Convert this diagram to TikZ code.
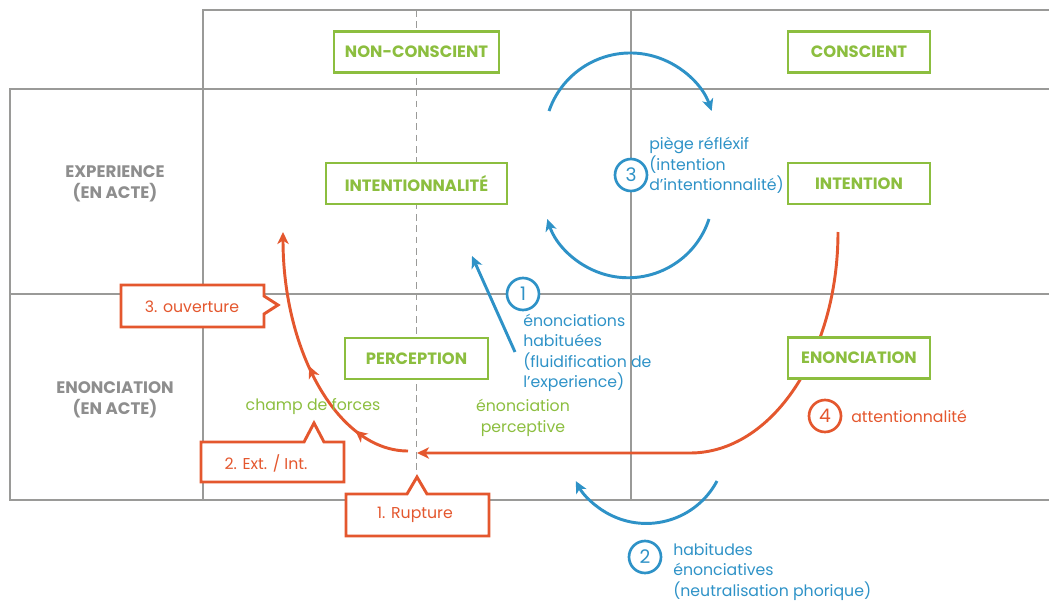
\documentclass[tikz,border=0pt]{standalone}
\usepackage{fontspec}
\setmainfont{Poppins}
\usetikzlibrary{arrows.meta,decorations.markings}
\definecolor{cgreen}{HTML}{8CBE3F}
\definecolor{corange}{HTML}{E4572E}
\definecolor{cblue}{HTML}{2E92C7}
\definecolor{cgrid}{HTML}{9A9A98}
\definecolor{cgraytxt}{HTML}{8E8E8E}
\begin{document}
\begin{tikzpicture}[x=0.75pt,y=-0.75pt,
  gridline/.style={draw=cgrid, line width=2.2pt},
  midline/.style={draw=cgrid, line width=0.7pt, dash pattern=on 5pt off 3.5pt},
  greenbox/.style={draw=cgreen, line width=2.2pt, fill=white, inner sep=0pt,
     minimum height=30.75pt, text=cgreen, font=\fontsize{12.3}{14}\selectfont\bfseries},
  graylbl/.style={align=center, text=cgraytxt, font=\fontsize{12.5}{15.5}\selectfont\bfseries},
  bluetxt/.style={align=left, anchor=west, text=cblue, inner sep=0pt, font=\fontsize{11.8}{15.4}\selectfont},
  greentxt/.style={align=center, text=cgreen, inner sep=0pt, font=\fontsize{11.8}{15.4}\selectfont},
  orangetxt/.style={text=corange, inner sep=0pt, font=\fontsize{11.8}{15.4}\selectfont},
  numcirc/.style={circle, draw=#1, text=#1, line width=2pt, fill=white, minimum size=24pt, inner sep=0pt, font=\fontsize{14}{15}\selectfont},
  callout/.style={draw=corange, line width=2.2pt, fill=white, line join=miter},
  orangearrow/.style={draw=corange, line width=2.2pt, -{Stealth[length=9pt,width=8.5pt,inset=2.5pt]}},
  bluearrow/.style={draw=cblue, line width=2.2pt, -{Stealth[length=9pt,width=8.5pt,inset=2.5pt]}},
  midarrows/.style={postaction={decorate}, decoration={markings,
     mark=at position 0.21 with {\arrow{Stealth[length=9pt,width=8.5pt,inset=2.5pt]}},
     mark=at position 0.5 with {\arrow{Stealth[length=9pt,width=8.5pt,inset=2.5pt]}}}}
]
\useasboundingbox (0,0) rectangle (1049,603);

% grid
\draw[gridline] (203,500) -- (203,10) -- (1049,10);
\draw[gridline] (1049,89) -- (10,89) -- (10,500) -- (1049,500);
\draw[gridline] (10,294) -- (1049,294);
\draw[gridline] (631,10) -- (631,500);
\coordinate (dtop) at (416,10);
\coordinate (dbot) at (416,477);
\draw[midline] (dtop) -- (dbot);

% row / column labels
\node[graylbl] (lexp) at (115,184) {EXPERIENCE\\(EN ACTE)};
\node[graylbl] (lenon) at (115,400) {ENONCIATION\\(EN ACTE)};

% orange main arc (attentionnalite)
\coordinate (oa) at (838,232);
\coordinate (ob) at (417,453);
\draw[orangearrow] (oa) arc[start angle=0,end angle=90,x radius=148,y radius=221] -- (ob);

% orange arc (rupture -> ouverture)
\coordinate (oc) at (408,451);
\coordinate (od) at (283,232);
\draw[orangearrow, midarrows, color=corange] (oc) arc[start angle=90,end angle=180,x radius=125,y radius=219];

% blue arcs (3)
\draw[bluearrow] (549,111) arc[start angle=-161,end angle=-19,radius=86];
\draw[bluearrow] (709,219) arc[start angle=18,end angle=162,radius=85];
% blue arc (2)
\draw[bluearrow] (717,481) arc[start angle=28,end angle=152,radius=80];
% blue arrow (1)
\coordinate (b1s) at (515,352);
\coordinate (b1e) at (472,256);
\draw[bluearrow] (b1s) -- (b1e);

% green boxes
\node[greenbox, minimum width=123.75pt] (nc) at (416.5,52) {NON-CONSCIENT};
\node[greenbox, minimum width=106.5pt] (co) at (859,52) {CONSCIENT};
\node[greenbox, minimum width=135.75pt] (inl) at (416.5,183.5) {INTENTIONNALITÉ};
\node[greenbox, minimum width=106.5pt] (int) at (859,183.5) {INTENTION};
\node[greenbox, minimum width=107.25pt] (per) at (416.5,358.5) {PERCEPTION};
\node[greenbox, minimum width=106.5pt] (eno) at (859,358) {ENONCIATION};

% green texts
\node[greentxt] (cdf) at (313,407) {champ de forces};
\node[greentxt] (ep) at (523,418) {énonciation\\perceptive};

% numbered circles and blue/orange texts
\node[numcirc=cblue] (n3) at (631,175) {3};
\node[bluetxt] (t3) at (649,165.5) {piège réfléxif\\(intention\\d’intentionnalité)};
\node[numcirc=cblue] (n1) at (523,294) {1};
\node[bluetxt] (t1) at (523,353) {énonciations\\habituées\\(fluidification de\\l’experience)};
\node[numcirc=cblue] (n2) at (645,557) {2};
\node[bluetxt] (t2) at (673,572) {habitudes\\énonciatives\\(neutralisation phorique)};
\node[numcirc=corange] (n4) at (825,416) {4};
\node[orangetxt, anchor=west] (t4) at (851,416) {attentionnalité};

% callouts
\draw[callout] (121,285) -- (264,285) -- (264,296) -- (278,305) -- (264,314) -- (264,327) -- (121,327) -- cycle;
\node[orangetxt] (c3) at (192,307) {3. ouverture};
\draw[callout] (201,442) -- (304,442) -- (314,423) -- (324,442) -- (344,442) -- (344,482) -- (201,482) -- cycle;
\node[orangetxt] (c2) at (266,463) {2. Ext. / Int.};
\draw[callout] (346,494) -- (407,494) -- (417,477) -- (427,494) -- (489,494) -- (489,536) -- (346,536) -- cycle;
\node[orangetxt] (c1) at (415,515) {1. Rupture};
\end{tikzpicture}
\end{document}
